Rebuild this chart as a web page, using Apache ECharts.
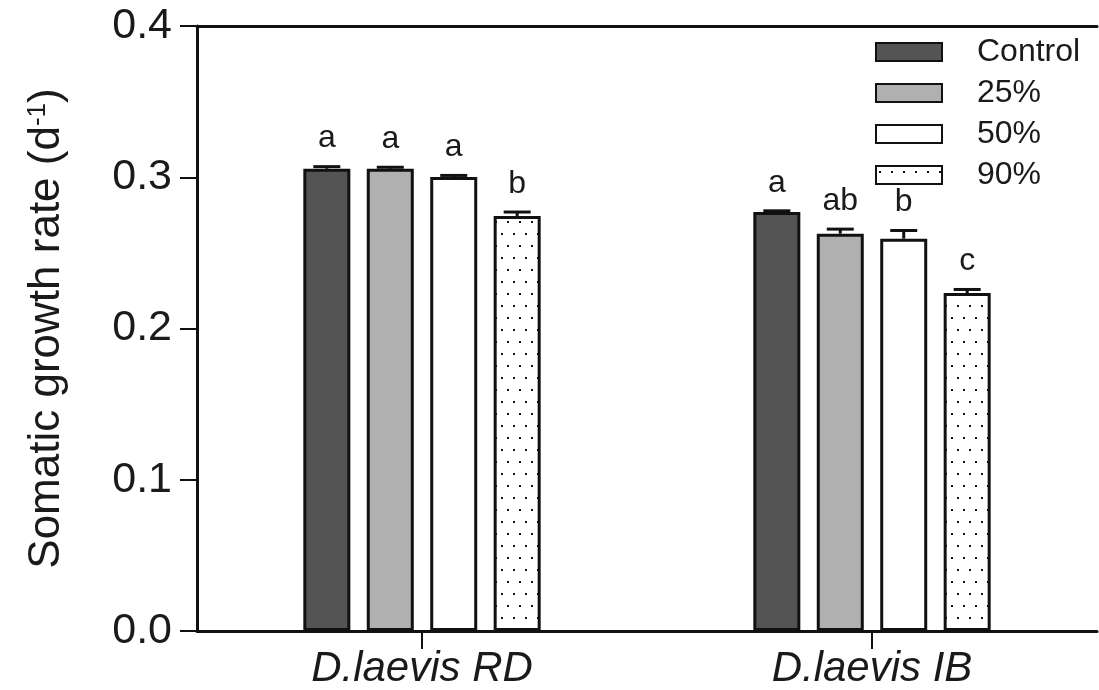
<!DOCTYPE html>
<html>
<head>
<meta charset="utf-8">
<script src="https://cdn.jsdelivr.net/npm/echarts@6/dist/echarts.min.js"></script>
<style>html,body{margin:0;padding:0;background:#fff;}#c{width:1099px;height:690px;}</style>
</head>
<body>
<div id="c"></div>
<script>
// ---- data ----
var categories = ['D.laevis RD', 'D.laevis IB'];
var seriesNames = ['Control', '25%', '50%', '90%'];
var controlVals = [0.3056, 0.2770];
var p25Vals = [0.3056, 0.2627];
var p50Vals = [0.3002, 0.2594];
var p90Vals = [0.2744, 0.2234];
var controlErr = [0.0024, 0.0018];
var p25Err = [0.0020, 0.0040];
var p50Err = [0.0020, 0.0064];
var p90Err = [0.0036, 0.0034];
var controlLetters = ['a', 'a'];
var p25Letters = ['a', 'ab'];
var p50Letters = ['a', 'b'];
var p90Letters = ['b', 'c'];
var yTicks = [0.0, 0.1, 0.2, 0.3, 0.4];

// ---- styling/layout ----
var FONT = '"Liberation Sans", Arial, sans-serif';
var TXT = '#1a1a1a';
var BAR_W = 47;
var BAR_GAP = 0.35;
var PITCH = BAR_W * (1 + BAR_GAP);

function dotPattern() {
  var c = document.createElement('canvas');
  c.width = 12; c.height = 24;
  var g = c.getContext('2d');
  g.fillStyle = '#ffffff';
  g.fillRect(0, 0, 12, 24);
  g.fillStyle = '#111111';
  g.fillRect(3, 5, 2, 2);
  g.fillRect(9, 17, 2, 2);
  return { image: c, repeat: 'repeat' };
}

var fills = ['#545454', '#b0b0b0', '#ffffff', dotPattern()];
var vals = [controlVals, p25Vals, p50Vals, p90Vals];
var errs = [controlErr, p25Err, p50Err, p90Err];
var letters = [controlLetters, p25Letters, p50Letters, p90Letters];

var barSeries = seriesNames.map(function (name, si) {
  return {
    name: name,
    type: 'bar',
    data: vals[si],
    barWidth: BAR_W,
    barGap: (BAR_GAP * 100) + '%',
    itemStyle: { color: fills[si], borderColor: '#111', borderWidth: 3 },
    emphasis: { disabled: true },
    z: 2
  };
});

var errData = [];
for (var si = 0; si < 4; si++) {
  for (var ci = 0; ci < categories.length; ci++) {
    errData.push([ci, vals[si][ci] + errs[si][ci], si, vals[si][ci], letters[si][ci]]);
  }
}

var errSeries = {
  type: 'custom',
  name: 'err',
  data: errData,
  encode: { x: 0, y: 1 },
  z: 5,
  renderItem: function (params, api) {
    var ci = api.value(0), top = api.value(1), si = api.value(2), mean = api.value(3);
    var letter = errData[params.dataIndex][4];
    var pTop = api.coord([ci, top]);
    var pMean = api.coord([ci, mean]);
    var x = pTop[0] + (si - 1.5) * PITCH;
    var yt = pTop[1] + 1.5;
    var hw = 13.5;
    return {
      type: 'group',
      children: [
        { type: 'line', shape: { x1: x, y1: pMean[1], x2: x, y2: yt }, style: { stroke: '#111', lineWidth: 3 } },
        { type: 'line', shape: { x1: x - hw, y1: yt, x2: x + hw, y2: yt }, style: { stroke: '#111', lineWidth: 3 } },
        { type: 'text', x: x, y: yt - 12, style: { text: letter, fill: TXT, font: '32px ' + FONT, textAlign: 'center', textVerticalAlign: 'bottom' } }
      ]
    };
  }
};

var chart = echarts.init(document.getElementById('c'), null, { renderer: 'canvas' });
chart.setOption({
  animation: false,
  backgroundColor: '#ffffff',
  grid: { left: 197, right: 2, top: 26, bottom: 58.3, containLabel: false },
  legend: {
    data: seriesNames,
    orient: 'vertical',
    left: 875,
    top: 36,
    padding: 0,
    itemWidth: 66,
    itemHeight: 18,
    itemGap: 9,
    icon: 'rect',
    selectedMode: false,
    textStyle: { fontFamily: FONT, fontSize: 32, color: TXT, padding: [0, 0, 0, 30] }
  },
  xAxis: [{
    type: 'category',
    data: categories,
    axisLine: { lineStyle: { color: '#111', width: 3 } },
    axisTick: { show: true, alignWithLabel: true, length: 18, lineStyle: { color: '#111', width: 2 } },
    axisLabel: { fontFamily: FONT, fontSize: 42, fontStyle: 'italic', color: TXT, margin: 17 }
  }, {
    type: 'category',
    data: categories,
    position: 'top',
    axisLine: { show: true, lineStyle: { color: '#111', width: 3 } },
    axisTick: { show: false },
    axisLabel: { show: false }
  }],
  yAxis: {
    type: 'value',
    min: yTicks[0],
    max: yTicks[yTicks.length - 1],
    interval: 0.1,
    splitLine: { show: false },
    axisLine: { show: true, lineStyle: { color: '#111', width: 3 } },
    axisTick: { show: true, length: 17, lineStyle: { color: '#111', width: 2 } },
    axisLabel: { fontFamily: FONT, fontSize: 43, color: TXT, margin: 25, formatter: function (v) { return v.toFixed(1); } },
    name: 'Somatic growth rate (d{sup|-1})',
    nameLocation: 'middle',
    nameRotate: 90,
    nameGap: 128,
    nameTextStyle: {
      fontFamily: FONT, fontSize: 44, color: TXT,
      rich: { sup: { fontFamily: FONT, fontSize: 26, color: TXT, verticalAlign: 'top', padding: [0, 0, 16, 0] } }
    }
  },
  series: barSeries.concat([errSeries])
});
</script>
</body>
</html>
